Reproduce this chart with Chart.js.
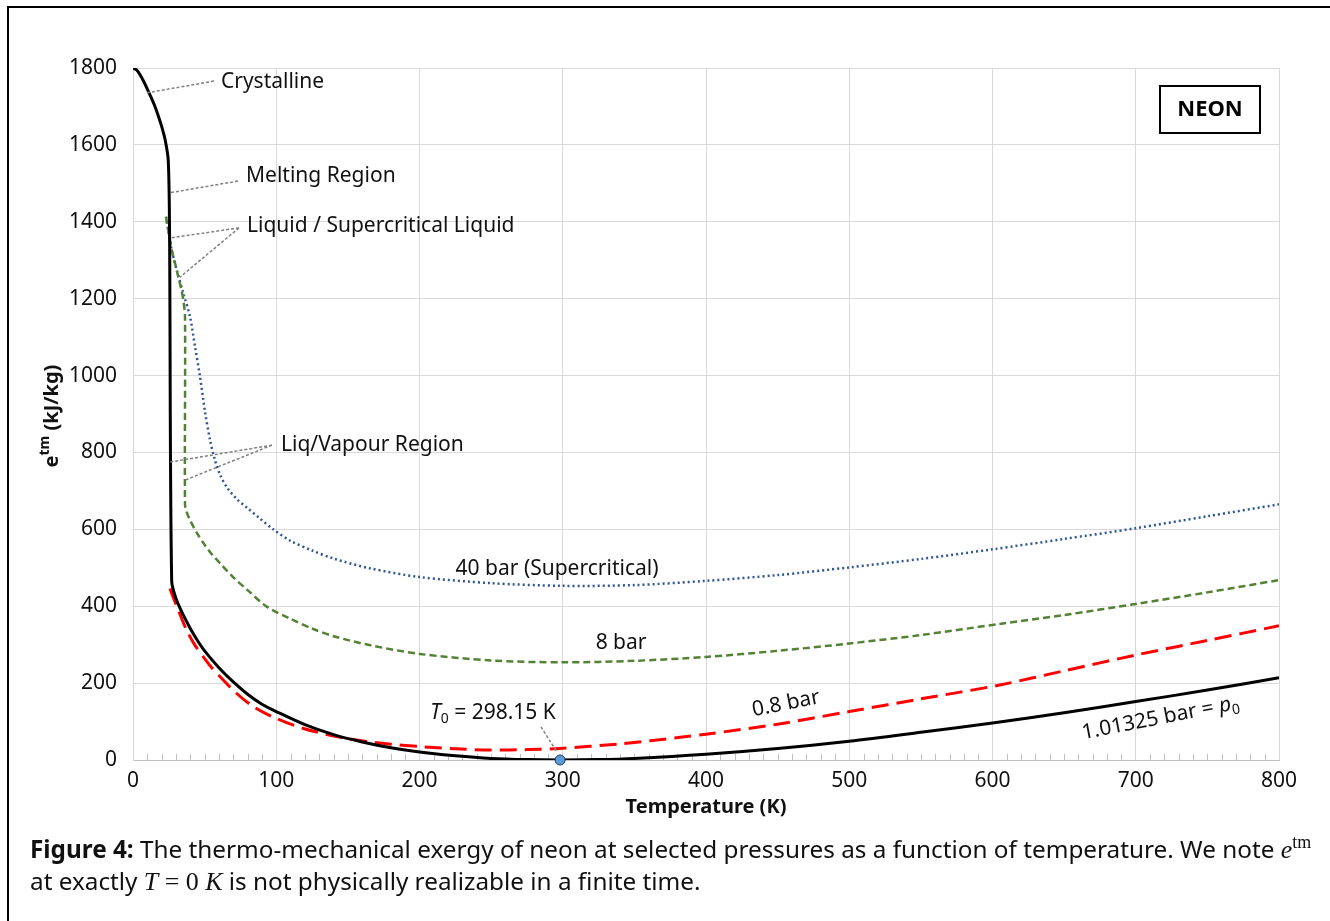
<!DOCTYPE html>
<html>
<head>
<meta charset="utf-8">
<title>Neon exergy</title>
<script src="https://cdn.jsdelivr.net/npm/chart.js@4.4.0/dist/chart.umd.min.js"></script>
<style>
  html, body { margin: 0; padding: 0; background: #fff; }
  #wrap { position: relative; width: 1330px; height: 921px; overflow: hidden; }
  #frame { position: absolute; left: 7px; top: 6px; width: 1400px; height: 1000px; border-left: 2px solid #000; border-top: 2px solid #000; }
  #chart { position: absolute; left: 0; top: 0; }
  .cap { position: absolute; left: 30px; height: 32px; font-family: 'Noto Sans', sans-serif; font-size: 24.3px; line-height: 32px; color: #111; white-space: nowrap; }
  .m { font-family: 'Liberation Serif', serif; font-style: italic; font-size: 26px; line-height: 0; }
  .r { font-family: 'Liberation Serif', serif; font-size: 26px; line-height: 0; }
  .sup { font-family: 'Liberation Serif', serif; font-size: 18px; line-height: 0; position: relative; top: -10px; }
</style>
</head>
<body>
<div id="wrap">
  <div id="frame"></div>
  <canvas id="chart" width="1330" height="921"></canvas>
  <div class="cap" style="top: 833px;"><b>Figure 4:</b> The thermo-mechanical exergy of neon at selected pressures as a function of temperature. We note <span class="m">e</span><span class="sup">tm</span></div>
  <div class="cap" style="top: 865px;">at exactly <span class="m">T</span> <span class="r">= 0</span> <span class="m">K</span> is not physically realizable in a finite time.</div>
</div>
<script>
// 1.01325 bar = p0 (solid black)
const tAtm = [0, 2.5, 5, 7.5, 10, 12.5, 15, 17.5, 20, 22.5, 24.6, 25.5, 27, 30, 35, 40, 45, 50, 60, 70, 80, 90, 100, 120, 140, 160, 180, 200, 225, 250, 275, 298.15, 325, 350, 400, 450, 500, 550, 600, 650, 700, 750, 800];
const eAtm = [1800, 1795, 1782, 1765, 1745, 1725, 1703, 1677, 1648, 1612, 1560, 1380, 466, 420, 378, 342, 311, 284, 240, 203, 171, 145, 126, 92, 66, 47, 32, 21, 11, 4, 1, 0, 1, 4, 15, 30, 49, 72, 96, 123, 152, 182, 214];

// 0.8 bar (red dashed)
const t08 = [25.8, 28, 31.6, 37.4, 43, 49, 55, 60.7, 72.4, 84, 100, 119, 142, 163, 180, 200, 225, 250, 275, 298, 340, 382, 400, 450, 500, 550, 605, 650, 700, 750, 800];
const e08 = [446, 424, 390, 338, 300, 269, 240, 217, 173, 139, 108, 82, 61, 48, 41, 35, 29, 26, 27, 30, 42, 59, 67, 93, 126, 159, 195, 232, 273, 311, 349];

// 8 bar (green dashed)
const t8 = [23, 25, 27, 29.5, 31.6, 33.5, 35.1, 36.3, 36.3, 37.5, 39.8, 45, 50, 55, 60.7, 70, 80, 93.3, 110, 125, 140, 165, 200, 250, 300, 350, 400, 450, 500, 550, 605, 650, 700, 750, 800];
const e8 = [1413, 1370, 1327, 1290, 1257, 1228, 1197, 1153, 665, 645, 624, 588, 560, 535, 512, 475, 442, 399, 367, 342, 322, 299, 276, 259, 254, 258, 268, 284, 303, 325, 354, 377, 406, 436, 468];

// 40 bar, supercritical (blue dotted)
const t40 = [23, 25, 27, 30.5, 35.1, 39.8, 43.3, 46.8, 50.3, 53.8, 57.2, 61, 66, 72.4, 80, 88, 97.9, 110, 125, 140, 165, 200, 250, 300, 350, 400, 450, 500, 550, 600, 650, 700, 750, 800];
const e40 = [1413, 1370, 1327, 1275, 1214, 1153, 1075, 997, 905, 832, 780, 740, 707, 679, 655, 630, 600, 570, 545, 524, 499, 476, 460, 453, 455, 466, 481, 501, 523, 548, 575, 603, 634, 665];

// dead state point
const tDead = [298.15];
const eDead = [0];

const FONT = "'Noto Sans', sans-serif";
const TEXT = '#111';

function toPts(xs, ys) {
  return xs.map((x, i) => ({ x: x, y: ys[i] }));
}

// label text, in data coordinates
const labels = [
  { parts: [{ t: 'Crystalline' }], x: 61.4, y: 1764 },
  { parts: [{ t: 'Melting Region' }], x: 78.9, y: 1519 },
  { parts: [{ t: 'Liquid / Supercritical Liquid' }], x: 79.6, y: 1389 },
  { parts: [{ t: 'Liq/Vapour Region' }], x: 103.3, y: 819 },
  { parts: [{ t: 'T', italic: true }, { t: '0', sub: true }, { t: ' = 298.15 K' }], x: 251.3, y: 122, align: 'center' },
  { parts: [{ t: '40 bar (Supercritical)' }], x: 296, y: 497, align: 'center' },
  { parts: [{ t: '8 bar' }], x: 340.7, y: 304, align: 'center' },
  { parts: [{ t: '0.8 bar' }], x: 455.8, y: 146, align: 'center', angle: -11 },
  { parts: [{ t: '1.01325 bar = ' }, { t: 'p', italic: true }, { t: '0', sub: true }], x: 717.3, y: 109, align: 'center', angle: -11 }
];

// leader lines [x1, y1, x2, y2] in data coordinates
const leaders = [
  [56.5, 1766, 9.1, 1735],
  [73.3, 1506, 25.1, 1475],
  [74, 1384, 25.8, 1358],
  [74, 1384, 32.8, 1256],
  [97, 819, 25.8, 775],
  [97, 819, 36.3, 728],
  [284.8, 86, 296, 21]
];

function drawRich(ctx, parts, x, y, size, angle, align, bold) {
  ctx.save();
  ctx.translate(x, y);
  ctx.rotate((angle || 0) * Math.PI / 180);
  ctx.textBaseline = 'middle';
  ctx.textAlign = 'left';
  ctx.fillStyle = TEXT;
  const fontFor = p => (p.italic ? 'italic ' : '') + (bold ? 'bold ' : '') +
    Math.round((p.sub || p.sup) ? size * 0.68 : size) + 'px ' + FONT;
  let w = 0;
  parts.forEach(p => { ctx.font = fontFor(p); w += ctx.measureText(p.t).width; });
  let cx = align === 'center' ? -w / 2 : 0;
  parts.forEach(p => {
    ctx.font = fontFor(p);
    const dy = p.sub ? size * 0.3 : p.sup ? -size * 0.35 : 0;
    ctx.fillText(p.t, cx, dy);
    cx += ctx.measureText(p.t).width;
  });
  ctx.restore();
}

const minorTicks = {
  id: 'minorTicks',
  beforeDatasetsDraw(chart) {
    const { ctx, chartArea, scales } = chart;
    ctx.save();
    ctx.strokeStyle = '#bfbfbf';
    ctx.lineWidth = 1;
    ctx.beginPath();
    for (let t = 10; t < 800; t += 10) {
      if (t % 100 === 0) continue;
      const px = Math.round(scales.x.getPixelForValue(t)) + 0.5;
      ctx.moveTo(px, chartArea.bottom);
      ctx.lineTo(px, chartArea.bottom - 6);
    }
    ctx.stroke();
    ctx.restore();
  }
};

const annotate = {
  id: 'annotate',
  afterDatasetsDraw(chart) {
    const { ctx, chartArea, scales } = chart;
    const sx = v => scales.x.getPixelForValue(v);
    const sy = v => scales.y.getPixelForValue(v);

    // leader lines
    ctx.save();
    ctx.strokeStyle = '#808080';
    ctx.lineWidth = 1.5;
    ctx.setLineDash([3, 2]);
    leaders.forEach(l => {
      ctx.beginPath();
      ctx.moveTo(sx(l[0]), sy(l[1]));
      ctx.lineTo(sx(l[2]), sy(l[3]));
      ctx.stroke();
    });
    ctx.restore();

    labels.forEach(l => {
      drawRich(ctx, l.parts, sx(l.x), sy(l.y), 21, l.angle, l.align);
    });

    // NEON box
    ctx.save();
    ctx.strokeStyle = '#000';
    ctx.lineWidth = 2;
    ctx.strokeRect(chartArea.right - 119, chartArea.top + 18, 100, 47);
    ctx.fillStyle = '#000';
    ctx.font = 'bold 22px ' + FONT;
    ctx.textAlign = 'center';
    ctx.textBaseline = 'middle';
    ctx.fillText('NEON', chartArea.right - 69, chartArea.top + 42);
    ctx.restore();

    // axis titles
    ctx.save();
    ctx.fillStyle = TEXT;
    ctx.font = 'bold 20px ' + FONT;
    ctx.textAlign = 'center';
    ctx.textBaseline = 'middle';
    ctx.fillText('Temperature (K)', (chartArea.left + chartArea.right) / 2, 807);
    ctx.restore();
    drawRich(ctx, [{ t: 'e' }, { t: 'tm', sup: true }, { t: ' (kJ/kg)' }], 52, 416, 20, -90, 'center', true);
  }
};

const ctx = document.getElementById('chart').getContext('2d');
new Chart(ctx, {
  type: 'line',
  data: {
    datasets: [
      {
        label: 'T0',
        data: toPts(tDead, eDead),
        showLine: false,
        clip: false,
        pointRadius: 5,
        pointBackgroundColor: '#5b9bd5',
        pointBorderColor: '#1f3864',
        pointBorderWidth: 1
      },
      {
        label: '1.01325 bar',
        data: toPts(tAtm, eAtm),
        borderColor: '#000000',
        borderWidth: 3,
        pointRadius: 0,
        tension: 0.3
      },
      {
        label: '0.8 bar',
        data: toPts(t08, e08),
        borderColor: '#ff0000',
        borderWidth: 3,
        borderDash: [17, 8],
        pointRadius: 0,
        tension: 0.3
      },
      {
        label: '8 bar',
        data: toPts(t8, e8),
        borderColor: '#548235',
        borderWidth: 2.5,
        borderDash: [7, 4],
        pointRadius: 0,
        tension: 0.3
      },
      {
        label: '40 bar',
        data: toPts(t40, e40),
        borderColor: '#2f5597',
        borderWidth: 2.5,
        borderDash: [2, 3],
        pointRadius: 0,
        tension: 0.3
      }
    ]
  },
  options: {
    responsive: false,
    animation: false,
    devicePixelRatio: 1,
    layout: { padding: { left: 0, top: 68, right: 51, bottom: 101 } },
    plugins: {
      legend: { display: false },
      tooltip: { enabled: false }
    },
    scales: {
      x: {
        type: 'linear',
        min: 0,
        max: 800,
        ticks: { stepSize: 100, padding: 8, maxRotation: 0, color: TEXT, font: { family: FONT, size: 21 }, callback: v => String(v) },
        grid: { color: '#d9d9d9', drawTicks: false },
        border: { color: '#bfbfbf' },
        afterFit: s => { s.height = 60; }
      },
      y: {
        min: 0,
        max: 1800,
        ticks: { stepSize: 200, padding: 16, color: TEXT, font: { family: FONT, size: 21 }, callback: v => String(v) },
        grid: { color: '#d9d9d9', drawTicks: false },
        border: { color: '#d9d9d9' },
        afterFit: s => { s.width = 133; }
      }
    }
  },
  plugins: [minorTicks, annotate]
});
</script>
</body>
</html>
